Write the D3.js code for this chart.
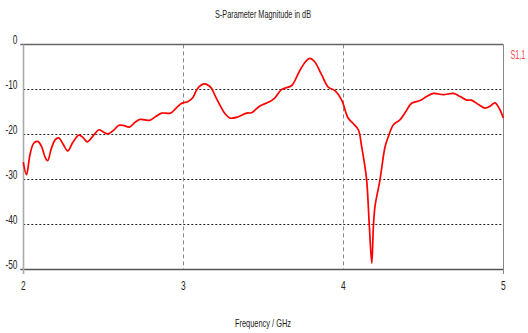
<!DOCTYPE html>
<html><head><meta charset="utf-8">
<script src="https://cdn.jsdelivr.net/npm/d3@7"></script>
<style>
html,body{margin:0;padding:0;background:#fff;}
svg text{font-family:"Liberation Sans",Arial,sans-serif;}
</style></head>
<body><svg id="c" width="528" height="333"></svg>
<script>
const freqGHz = [2.000,2.020,2.042,2.065,2.090,2.115,2.135,2.152,2.175,2.200,2.221,2.250,2.278,2.310,2.348,2.375,2.400,2.440,2.473,2.500,2.531,2.565,2.598,2.630,2.663,2.700,2.729,2.760,2.790,2.830,2.865,2.920,2.955,2.990,3.030,3.060,3.084,3.110,3.136,3.160,3.177,3.200,3.229,3.260,3.292,3.344,3.396,3.427,3.479,3.530,3.570,3.615,3.677,3.705,3.730,3.765,3.790,3.820,3.865,3.906,3.948,3.990,4.030,4.062,4.094,4.115,4.130,4.146,4.163,4.178,4.188,4.198,4.229,4.261,4.282,4.313,4.354,4.390,4.427,4.480,4.520,4.563,4.625,4.688,4.730,4.771,4.800,4.850,4.886,4.920,4.948,4.980,5.000];
const s11dB = [-26.2,-29.0,-24.5,-22.0,-21.6,-22.8,-25.0,-25.9,-23.2,-21.2,-20.8,-22.3,-23.7,-21.8,-20.2,-20.8,-21.7,-20.2,-19.0,-19.5,-19.9,-19.1,-18.0,-18.1,-18.4,-17.3,-16.7,-16.8,-16.9,-16.0,-15.3,-15.3,-14.2,-13.1,-12.7,-11.8,-10.1,-9.1,-8.8,-9.2,-9.8,-11.5,-13.5,-15.4,-16.4,-16.1,-15.3,-15.2,-13.7,-12.9,-12.0,-10.0,-9.2,-7.5,-5.7,-3.8,-3.1,-3.8,-6.8,-9.5,-10.3,-12.4,-16.4,-17.6,-19.0,-22.8,-26.0,-30.2,-40.6,-48.7,-40.6,-36.1,-30.2,-22.8,-20.5,-17.9,-16.8,-15.0,-13.1,-12.5,-11.6,-10.9,-11.2,-10.9,-11.6,-12.4,-12.4,-13.5,-14.2,-13.7,-13.0,-14.6,-16.4];
const xTicks = [2,3,4,5];
const yTicks = [0,-10,-20,-30,-40,-50];
const title = "S-Parameter Magnitude in dB";
const xLabel = "Frequency / GHz";
const seriesName = "S1,1";

const svg = d3.select("#c");
const L=23.3, R=503.3, T=44.4, B=269;
const x = d3.scaleLinear().domain([2,5]).range([L,R]);
const y = d3.scaleLinear().domain([0,-50]).range([T,B]);
const SX = 0.62;

// gridlines
svg.append("g").selectAll("line").data(yTicks.filter(d=>d<0&&d>-50)).join("line")
  .attr("x1",L).attr("x2",R).attr("y1",d=>Math.round(y(d))+0.5).attr("y2",d=>Math.round(y(d))+0.5)
  .attr("stroke","#222").attr("stroke-width",1).attr("stroke-dasharray","2,2");
svg.append("g").selectAll("line").data(xTicks.filter(d=>d>2&&d<5)).join("line")
  .attr("x1",d=>Math.round(x(d))+0.5).attr("x2",d=>Math.round(x(d))+0.5).attr("y1",T).attr("y2",B)
  .attr("stroke","#888").attr("stroke-width",1).attr("stroke-dasharray","4,3");

// frame
svg.append("line").attr("x1",L-3).attr("x2",R).attr("y1",Math.round(T)+0.5).attr("y2",Math.round(T)+0.5).attr("stroke","#666").attr("stroke-width",1.3);
svg.append("line").attr("x1",L-3).attr("x2",R).attr("y1",Math.round(B)+0.5).attr("y2",Math.round(B)+0.5).attr("stroke","#555").attr("stroke-width",1.3);
svg.append("line").attr("x1",Math.round(L)+0.5).attr("x2",Math.round(L)+0.5).attr("y1",T).attr("y2",B+5).attr("stroke","#aaa").attr("stroke-width",1.6);
svg.append("line").attr("x1",Math.round(R)+0.5).attr("x2",Math.round(R)+0.5).attr("y1",T).attr("y2",B+5).attr("stroke","#888").attr("stroke-width",1);

// tick labels
svg.append("g").selectAll("text").data(yTicks).join("text")
  .attr("transform",d=>`translate(17.5,${y(d)}) scale(${SX},1)`).attr("text-anchor","end")
  .attr("font-size",13.5).attr("fill","#222").text(d=>d);
svg.append("g").selectAll("text").data(xTicks).join("text")
  .attr("transform",d=>`translate(${x(d)},290) scale(${SX},1)`).attr("text-anchor","middle")
  .attr("font-size",13.5).attr("fill","#222").text(d=>d);

// titles
svg.append("text").attr("x",215).attr("y",18).attr("font-size",11).attr("fill","#222")
  .attr("textLength",96).attr("lengthAdjust","spacingAndGlyphs").text(title);
svg.append("text").attr("x",235).attr("y",327).attr("font-size",11).attr("fill","#222")
  .attr("textLength",56).attr("lengthAdjust","spacingAndGlyphs").text(xLabel);
svg.append("text").attr("transform","translate(510.5,59) scale(0.58,1)").attr("font-size",12.5).attr("fill","#ff4a4a")
  .text(seriesName);

// curve
const pts = freqGHz.map((f,i)=>[f,s11dB[i]]);
const line = d3.line().x(d=>x(d[0])).y(d=>y(d[1])).curve(d3.curveCatmullRom.alpha(0.5));
svg.append("path").datum(pts).attr("d",line).attr("fill","none").attr("stroke","#ff0000").attr("stroke-width",1.7);
</script></body></html>
